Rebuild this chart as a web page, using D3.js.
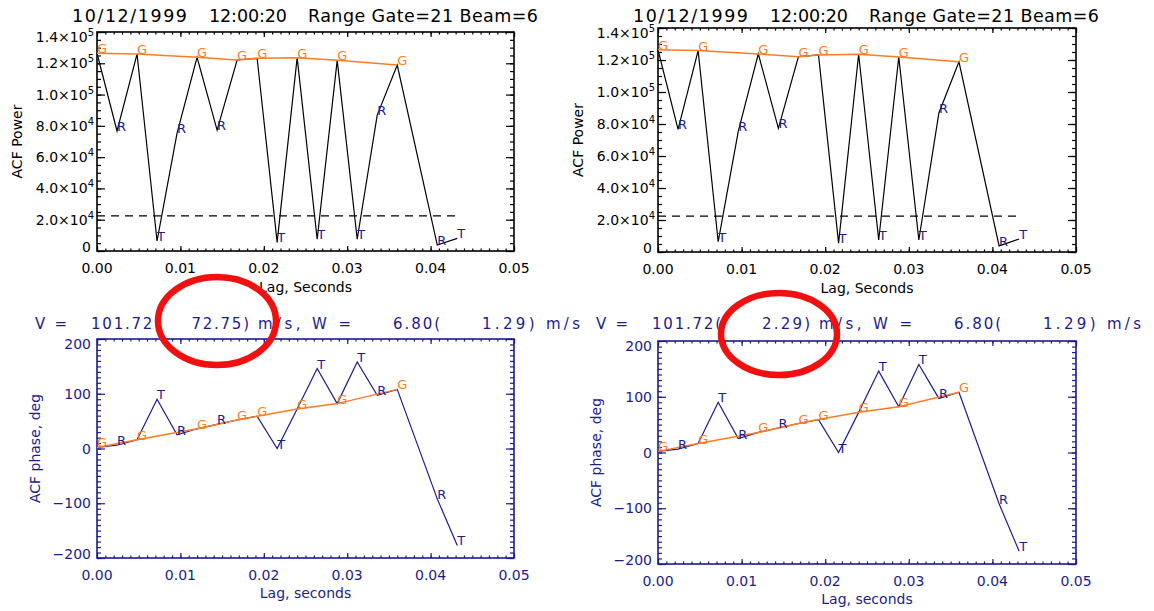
<!DOCTYPE html>
<html>
<head>
<meta charset="utf-8">
<title>ACF power and phase</title>
<script src="https://d3js.org/d3.v7.min.js"></script>
<style>
  body { margin: 0; background: #fff; }
  text { font-family: "DejaVu Sans", sans-serif; }
</style>
</head>
<body>
<div id="viz"></div>
<script>
  // lag times (s), quality flag of each lag, power and phase
  const lagTime = [0.0000, 0.0024, 0.0048, 0.0072, 0.0096, 0.0120, 0.0144, 0.0168, 0.0192,
                   0.0216, 0.0240, 0.0264, 0.0288, 0.0312, 0.0336, 0.0360, 0.0408, 0.0432];
  const lagFlag = ["G", "R", "G", "T", "R", "G", "R", "G", "G", "T", "G", "T", "G", "T", "R", "G", "R", "T"];
  const acfPower = [126400, 76700, 125900, 6400, 75400, 123800, 77300, 122100, 123200,
                    5500, 123600, 7500, 121900, 7500, 86900, 118900, 3800, 8100];
  const acfPhase = [2, 6, 16, 90, 25, 36, 44, 52, 59, 0, 72, 146, 82, 158, 97, 108, -92, -177];
  const noiseLevel = 22400;

  const lagTicks = [0, 0.01, 0.02, 0.03, 0.04, 0.05];
  const lagTickLabels = ["0.00", "0.01", "0.02", "0.03", "0.04", "0.05"];
  const powerTicks = [0, 20000, 40000, 60000, 80000, 100000, 120000, 140000];
  const powerTickLabels = [["0", ""], ["2.0×10", "4"], ["4.0×10", "4"], ["6.0×10", "4"], ["8.0×10", "4"],
                           ["1.0×10", "5"], ["1.2×10", "5"], ["1.4×10", "5"]];
  const phaseTicks = [-200, -100, 0, 100, 200];
  const phaseTickLabels = ["\u2212200", "\u2212100", "0", "100", "200"];

  const titleParts = ["10/12/1999", "12:00:20", "Range Gate=21 Beam=6"];
  const velocity = "101.72";
  const velocityErr = ["72.75", "2.29"];   // left plot, right plot
  const spWidth = "6.80";
  const spWidthErr = "1.29";

  const W = 1154, H = 611;
  const BLACK = "#000", NAVY = "#1c1c8e", ORANGE = "#ff7c22", RED = "#f01010";

  // two copies of the same figure, side by side
  const sides = [
    { x0: 97, x1: 514, top: [32, 251], bot: [339, 558], vBase: 329, ring: [217, 321, 59, 44] },
    { x0: 658, x1: 1076, top: [28, 252], bot: [341, 564], vBase: 329, ring: [779, 334, 58, 41] }
  ];

  const svg = d3.select("#viz").append("svg").attr("width", W).attr("height", H);
  svg.append("rect").attr("width", W).attr("height", H).attr("fill", "#fff");

  function frame(g, x, y, col, yMajor, yMinor) {
    const [x0, x1] = x.range();
    const [y1, y0] = y.range();
    const xMinor = d3.range(0, 51).map(i => i / 1000);
    const add = (axis, tr, size) => g.append("g")
      .attr("transform", tr)
      .attr("color", col)
      .call(axis.tickSize(-size).tickSizeOuter(0).tickFormat(""))
      .call(s => s.select(".domain").remove())
      .call(s => s.selectAll("text").remove())
      .call(s => s.selectAll("line").attr("stroke-width", 1.2));
    add(d3.axisBottom(x).tickValues(xMinor), `translate(0,${y1})`, 2.6);
    add(d3.axisBottom(x).tickValues(lagTicks), `translate(0,${y1})`, 5);
    add(d3.axisTop(x).tickValues(xMinor), `translate(0,${y0})`, 2.6);
    add(d3.axisTop(x).tickValues(lagTicks), `translate(0,${y0})`, 5);
    add(d3.axisLeft(y).tickValues(yMinor), `translate(${x0},0)`, 4);
    add(d3.axisLeft(y).tickValues(yMajor), `translate(${x0},0)`, 8);
    add(d3.axisRight(y).tickValues(yMinor), `translate(${x1},0)`, 4);
    add(d3.axisRight(y).tickValues(yMajor), `translate(${x1},0)`, 8);
    g.append("rect")
      .attr("x", x0).attr("y", y0)
      .attr("width", x1 - x0).attr("height", y1 - y0)
      .attr("fill", "none").attr("stroke", col).attr("stroke-width", 1.6);

    // x tick labels
    g.selectAll(null).data(lagTicks).join("text")
      .attr("x", d => x(d)).attr("y", y1 + 22)
      .attr("text-anchor", "middle").attr("font-size", 14).attr("fill", col)
      .text((d, i) => lagTickLabels[i]);
  }

  function yLabels(g, y, x0, ticks, labels, col) {
    ticks.forEach((t, i) => {
      let shift = 5;
      if (i === 0) shift = 1;
      if (i === ticks.length - 1) shift = 10;
      const sup = Array.isArray(labels[i]) ? labels[i][1] : "";
      const base = Array.isArray(labels[i]) ? labels[i][0] : labels[i];
      const txt = g.append("text")
        .attr("x", x0 - (sup ? 3 : 6)).attr("y", y(t) + shift)
        .attr("text-anchor", "end").attr("font-size", 14).attr("fill", col);
      txt.append("tspan").text(base);
      if (sup) txt.append("tspan").attr("dy", -6).attr("font-size", 10).text(sup);
    });
  }

  function flagLabels(g, x, y, values, col) {
    g.selectAll(null).data(lagTime).join("text")
      .attr("x", d => x(d))
      .attr("y", (d, i) => y(values[i]))
      .attr("font-size", 13)
      .attr("fill", (d, i) => lagFlag[i] === "G" ? ORANGE : col)
      .text((d, i) => lagFlag[i]);
  }

  sides.forEach((side, k) => {
    const g = svg.append("g");
    const x = d3.scaleLinear().domain([0, 0.05]).range([side.x0, side.x1]);
    const yP = d3.scaleLinear().domain([0, 140000]).range([side.top[1], side.top[0]]);
    const yA = d3.scaleLinear().domain([-200, 200]).range([side.bot[1], side.bot[0]]);
    const midX = (side.x0 + side.x1) / 2;
    const goodIdx = d3.range(lagTime.length).filter(i => lagFlag[i] === "G");

    // ---- title
    const titleX = [side.x0 - 25, side.x0 + 112, side.x0 + 211];
    const titleLen = [115, 78, 230];
    titleParts.forEach((t, i) => {
      g.append("text").attr("x", titleX[i]).attr("y", 22)
        .attr("font-size", 17.5).attr("fill", BLACK)
        .attr("textLength", titleLen[i]).attr("lengthAdjust", "spacing")
        .text(t);
    });

    // ---- power panel
    frame(g, x, yP, BLACK, powerTicks, d3.range(0, 29).map(i => i * 5000));
    yLabels(g, yP, side.x0, powerTicks, powerTickLabels, BLACK);

    g.append("line")
      .attr("x1", x(0)).attr("x2", x(lagTime[lagTime.length - 1]))
      .attr("y1", yP(noiseLevel)).attr("y2", yP(noiseLevel))
      .attr("stroke", BLACK).attr("stroke-width", 1.2).attr("stroke-dasharray", "8,6");

    const linePow = d3.line().x(i => x(lagTime[i])).y(i => yP(acfPower[i]));
    g.append("path").attr("d", linePow(d3.range(lagTime.length)))
      .attr("fill", "none").attr("stroke", BLACK).attr("stroke-width", 1.2);
    g.append("path").attr("d", linePow(goodIdx))
      .attr("fill", "none").attr("stroke", ORANGE).attr("stroke-width", 1.5);
    flagLabels(g, x, yP, acfPower, NAVY);

    g.append("text")
      .attr("transform", `translate(${side.x0 - 75},${(side.top[0] + side.top[1]) / 2}) rotate(-90)`)
      .attr("text-anchor", "middle").attr("font-size", 14).attr("fill", BLACK)
      .text("ACF Power");
    g.append("text").attr("x", midX).attr("y", side.top[1] + 41)
      .attr("text-anchor", "middle").attr("font-size", 14).attr("fill", BLACK)
      .text("Lag, Seconds");

    // ---- velocity / width line
    const vl = [
      { t: "V =", x: side.x0 - 62, len: 32, a: "start" },
      { t: velocity + "(", x: side.x0 - 6, len: 69, a: "start" },
      { t: velocityErr[k] + ")", x: side.x0 + 152, len: (velocityErr[k].length + 1) * 9.6, a: "end" },
      { t: "m/s, W =", x: side.x0 + 161, len: 93, a: "start" },
      { t: spWidth + "(", x: side.x0 + 296, len: 47, a: "start" },
      { t: spWidthErr + ") m/s", x: side.x0 + 385, len: 98, a: "start" }
    ];
    vl.forEach(p => {
      g.append("text").attr("x", p.x).attr("y", side.vBase)
        .attr("text-anchor", p.a).attr("font-size", 15).attr("fill", NAVY)
        .attr("textLength", p.len).attr("lengthAdjust", "spacing")
        .text(p.t);
    });

    // ---- phase panel
    frame(g, x, yA, NAVY, phaseTicks, d3.range(-20, 21).map(i => i * 10));
    yLabels(g, yA, side.x0, phaseTicks, phaseTickLabels, NAVY);

    const linePh = d3.line().x(i => x(lagTime[i])).y(i => yA(acfPhase[i]));
    g.append("path").attr("d", linePh(d3.range(lagTime.length)))
      .attr("fill", "none").attr("stroke", NAVY).attr("stroke-width", 1.2);
    g.append("path").attr("d", linePh(goodIdx))
      .attr("fill", "none").attr("stroke", ORANGE).attr("stroke-width", 1.5);
    flagLabels(g, x, yA, acfPhase, NAVY);

    g.append("text")
      .attr("transform", `translate(${side.x0 - 57},${(side.bot[0] + side.bot[1]) / 2}) rotate(-90)`)
      .attr("text-anchor", "middle").attr("font-size", 14).attr("fill", NAVY)
      .text("ACF phase, deg");
    g.append("text").attr("x", midX).attr("y", side.bot[1] + 40)
      .attr("text-anchor", "middle").attr("font-size", 14).attr("fill", NAVY)
      .text("Lag, seconds");

    // ---- red ring around the velocity error
    const [cx, cy, rx, ry] = side.ring;
    g.append("ellipse")
      .attr("cx", cx).attr("cy", cy).attr("rx", rx).attr("ry", ry)
      .attr("fill", "none").attr("stroke", RED).attr("stroke-width", 6.5);
  });
</script>
</body>
</html>
